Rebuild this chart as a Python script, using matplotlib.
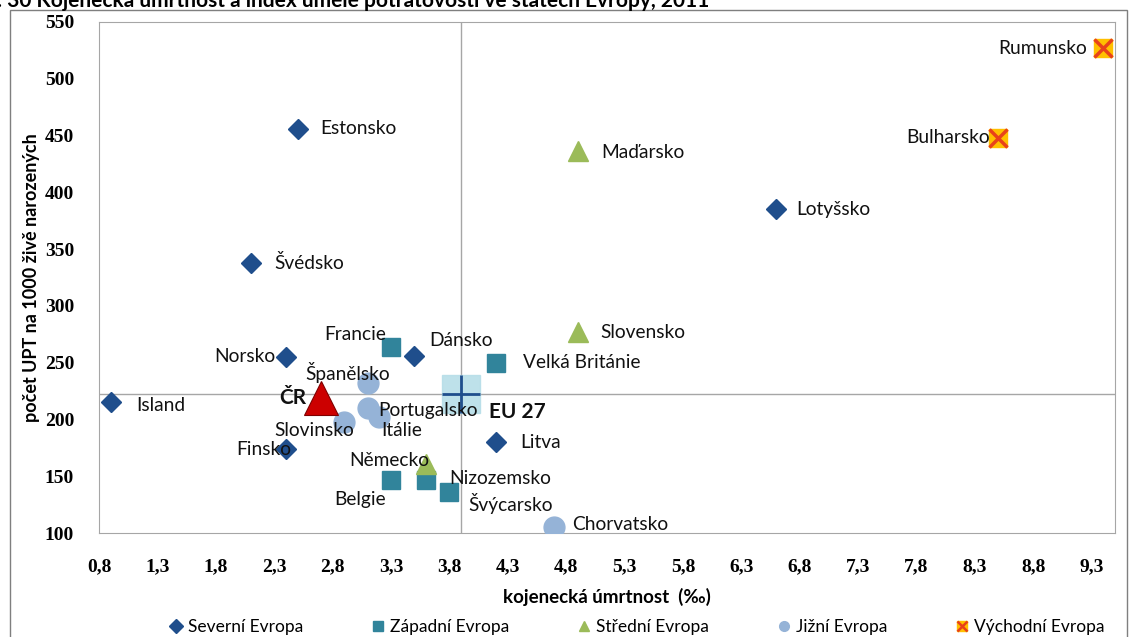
import matplotlib.pyplot as plt
from matplotlib.lines import Line2D
from matplotlib.patches import Rectangle
from matplotlib.legend_handler import HandlerTuple

# infant mortality (per mille) vs. induced abortions per 1000 live births
countries = ['Estonsko', 'Švédsko', 'Norsko', 'Dánsko', 'Island', 'Finsko', 'Litva', 'Lotyšsko',
             'Francie', 'Velká Británie', 'Belgie', 'Nizozemsko', 'Švýcarsko',
             'Maďarsko', 'Slovensko', 'Německo',
             'Španělsko', 'Portugalsko', 'Itálie', 'Slovinsko', 'Chorvatsko',
             'Rumunsko', 'Bulharsko']
infant_mort = [2.5, 2.1, 2.4, 3.5, 0.9, 2.4, 4.2, 6.6,
               3.3, 4.2, 3.3, 3.6, 3.8,
               4.9, 4.9, 3.6,
               3.1, 3.1, 3.2, 2.9, 4.7,
               9.4, 8.5]
abortions = [456, 338, 255, 256, 215, 174, 180, 385,
             264, 250, 147, 147, 136,
             436, 277, 161,
             232, 210, 202, 198, 105,
             527, 448]
regions = ['Severní Evropa'] * 8 + ['Západní Evropa'] * 5 + ['Střední Evropa'] * 3 + \
          ['Jižní Evropa'] * 5 + ['Východní Evropa'] * 2

cz_x, cz_y = 2.7, 219
eu_x, eu_y = 3.9, 222

x_ticks = [0.8, 1.3, 1.8, 2.3, 2.8, 3.3, 3.8, 4.3, 4.8, 5.3, 5.8, 6.3, 6.8, 7.3, 7.8, 8.3, 8.8, 9.3]
y_ticks = [100, 150, 200, 250, 300, 350, 400, 450, 500, 550]

# label placement (pixel offsets from marker, alignment)
label_pos = {
    'Estonsko': (23, 0, 'left'), 'Švédsko': (24, 0, 'left'), 'Norsko': (-10, 0, 'right'),
    'Dánsko': (15, 15, 'left'), 'Island': (26, -3, 'left'), 'Finsko': (5, -1, 'right'),
    'Litva': (24, 0, 'left'), 'Lotyšsko': (20, 0, 'left'), 'Francie': (-5, 12, 'right'),
    'Velká Británie': (27, 0, 'left'), 'Belgie': (-5, -20, 'right'), 'Nizozemsko': (23, 1, 'left'),
    'Švýcarsko': (19, -11, 'left'), 'Maďarsko': (23, -1, 'left'), 'Slovensko': (23, 0, 'left'),
    'Německo': (3, 3, 'right'), 'Španělsko': (-20, 11, 'center'), 'Portugalsko': (11, -2, 'left'),
    'Itálie': (2, -13, 'left'), 'Slovinsko': (10, -9, 'right'), 'Chorvatsko': (18, 3, 'left'),
    'Rumunsko': (-16, 0, 'right'), 'Bulharsko': (-8, 0, 'right'),
}

styles = {
    'Severní Evropa': dict(marker='D', color='#1F4E8C', ms=10.5),
    'Západní Evropa': dict(marker='s', color='#31849B', ms=13.5),
    'Střední Evropa': dict(marker='^', color='#9BBB59', ms=15),
    'Jižní Evropa': dict(marker='o', color='#95B3D7', ms=15),
}

plt.rcParams['font.family'] = ['Lato', 'DejaVu Sans']

fig = plt.figure(figsize=(11.31, 6.37), dpi=100)
ax = fig.add_axes([99 / 1131, 1 - 533 / 637, (1115 - 99) / 1131, (533 - 22) / 637])

ax.axvline(eu_x, color='#A6A6A6', lw=1, zorder=1)
ax.axhline(eu_y, color='#A6A6A6', lw=1, zorder=1)

for reg, st in styles.items():
    xs = [x for x, r in zip(infant_mort, regions) if r == reg]
    ys = [y for y, r in zip(abortions, regions) if r == reg]
    ax.plot(xs, ys, linestyle='none', marker=st['marker'], ms=st['ms'],
            color=st['color'], mec=st['color'], zorder=3)

xs = [x for x, r in zip(infant_mort, regions) if r == 'Východní Evropa']
ys = [y for y, r in zip(abortions, regions) if r == 'Východní Evropa']
ax.plot(xs, ys, linestyle='none', marker='s', ms=13, color='#FFC000', mec='#FFC000', zorder=3)
ax.plot(xs, ys, linestyle='none', marker='x', ms=13, mew=2.5, color='#E8421A', zorder=4)

# EU 27 average
ax.plot([eu_x], [eu_y], marker='s', ms=27, color='#B7DEE8', mec='#B7DEE8', alpha=0.9, zorder=2)
ax.plot([eu_x], [eu_y], marker='+', ms=28, mew=2, color='#1F4E8C', zorder=3)
ax.annotate('EU 27', (eu_x, eu_y), xytext=(28, -18), textcoords='offset pixels',
            ha='left', va='center', fontsize=15, fontweight='bold', color='#111111')

# Czech Republic
ax.plot([cz_x], [cz_y], marker='^', ms=24, color='#CC0000', mec='#7F0000', mew=0.8, zorder=5)
ax.annotate('ČR', (cz_x, cz_y), xytext=(-15, 0), textcoords='offset pixels',
            ha='right', va='center', fontsize=15, fontweight='bold', color='#111111')

for name, x, y in zip(countries, infant_mort, abortions):
    dx, dy, ha = label_pos[name]
    ax.annotate(name, (x, y), xytext=(dx, dy), textcoords='offset pixels',
                ha=ha, va='center', fontsize=13.8, color='#111111', zorder=6)

ax.set_xlim(0.8, 9.5)
ax.set_ylim(100, 550)
ax.set_xticks(x_ticks)
ax.set_xticklabels([f'{t:.1f}'.replace('.', ',') for t in x_ticks])
ax.set_yticks(y_ticks)
ax.tick_params(axis='x', length=0, pad=18, labelsize=14)
ax.tick_params(axis='y', length=0, pad=18, labelsize=14)
for lab in ax.get_xticklabels() + ax.get_yticklabels():
    lab.set_fontfamily('Liberation Serif')
    lab.set_fontweight('bold')
for sp in ax.spines.values():
    sp.set_color('#A6A6A6')

ax.set_xlabel('kojenecká úmrtnost  (‰)', fontsize=13.5, fontweight='bold', labelpad=9)
ax.set_ylabel('počet UPT na 1000 živě narozených', fontsize=13, fontweight='bold', labelpad=3)

handles = [Line2D([], [], linestyle='none', marker=st['marker'], color=st['color'], ms=7)
           for st in styles.values()]
east = (Line2D([], [], linestyle='none', marker='s', color='#FFC000', ms=7),
        Line2D([], [], linestyle='none', marker='x', color='#E8421A', ms=7, mew=1.8))
handles.append(east)
labels = list(styles.keys()) + ['Východní Evropa']
fig.legend(handles, labels, loc='center', bbox_to_anchor=(0.563, 1 - 627 / 637), ncol=5,
           frameon=False, fontsize=12.5, handlelength=0.8, handletextpad=0.3, columnspacing=3.9,
           handler_map={tuple: HandlerTuple(ndivide=1, pad=0)})

# outer frame and cut-off title
fig.patches.append(Rectangle((10 / 1131, -0.05), 1117 / 1131, 1.05 - 10 / 637,
                             transform=fig.transFigure, fill=False, ec='#7F7F7F', lw=1))
fig.text(-0.052, 1 - 7 / 637, 'Graf č. 30 Kojenecká úmrtnost a index umělé potratovosti ve státech Evropy, 2011',
         fontsize=15, fontweight='bold', va='baseline', ha='left')

fig.savefig('out.png', dpi=100)
